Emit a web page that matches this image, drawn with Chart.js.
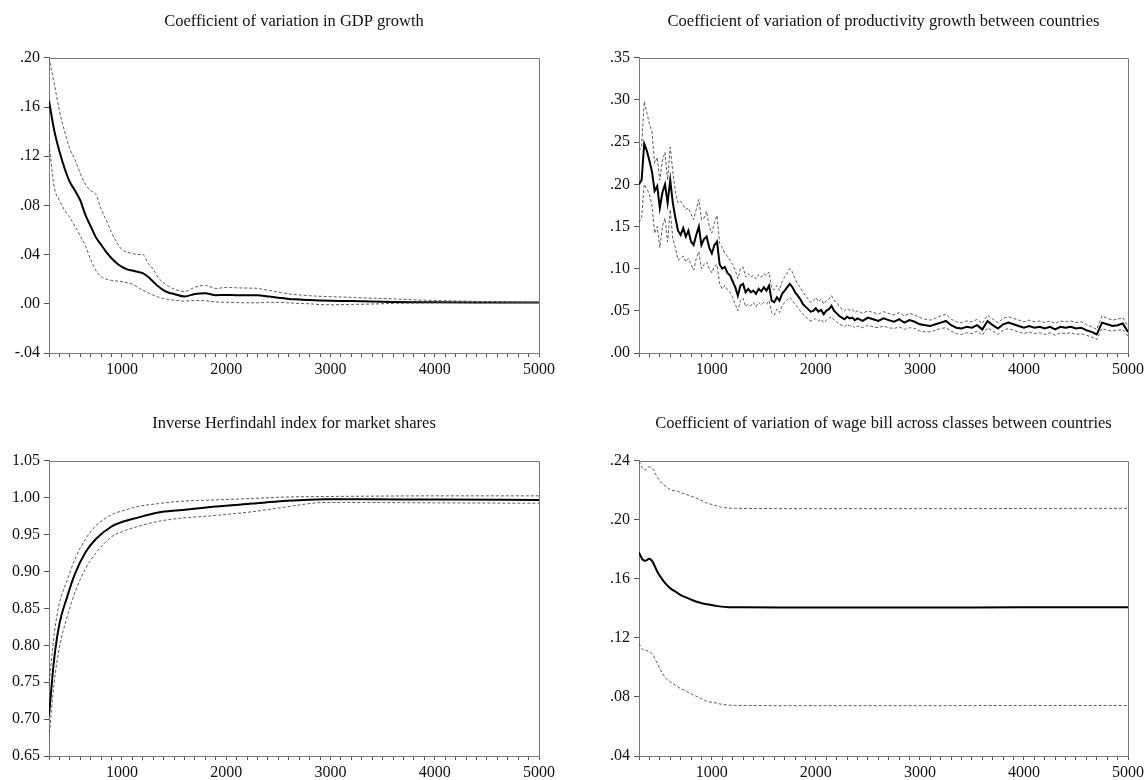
<!DOCTYPE html>
<html>
<head>
<meta charset="utf-8">
<title>Simulation statistics</title>
<script src="https://cdn.jsdelivr.net/npm/chart.js@4.4.1/dist/chart.umd.min.js"></script>
<style>
    html, body { margin: 0; padding: 0; background: #fff; }
    #wrap { position: relative; width: 1147px; height: 780px; }
    .panel { position: absolute; }
    .panel canvas { display: block; }
</style>
</head>
<body>
<div id="wrap">
    <div class="panel" style="left:0;top:0;width:573px;height:390px"><canvas id="c1"></canvas></div>
    <div class="panel" style="left:573px;top:0;width:574px;height:390px"><canvas id="c2"></canvas></div>
    <div class="panel" style="left:0;top:390px;width:573px;height:390px"><canvas id="c3"></canvas></div>
    <div class="panel" style="left:573px;top:390px;width:574px;height:390px"><canvas id="c4"></canvas></div>
</div>
<script>
"use strict";

// ---- Panel 1: coefficient of variation in GDP growth ----
const X1 = [300, 350, 400, 450, 500, 550, 600, 650, 700, 750, 800, 850, 900, 950, 1000, 1050, 1100, 1150, 1200,
    1250, 1300, 1350, 1400, 1450, 1500, 1600, 1700, 1800, 1900, 2000, 2100, 2200, 2300, 2400, 2500, 2600, 2700,
    2800, 2900, 3000, 3200, 3400, 3600, 3800, 4000, 4400, 5000];
const MEAN1 = [0.165, 0.141, 0.124, 0.110, 0.099, 0.092, 0.084, 0.072, 0.063, 0.054, 0.048, 0.042, 0.037, 0.033,
    0.030, 0.028, 0.027, 0.026, 0.025, 0.022, 0.018, 0.014, 0.011, 0.009, 0.008, 0.006, 0.008, 0.0085, 0.007,
    0.0072, 0.007, 0.007, 0.007, 0.006, 0.005, 0.004, 0.0035, 0.003, 0.0027, 0.0025, 0.0022, 0.0018, 0.0015,
    0.0013, 0.0012, 0.0011, 0.001];
const UPPER1 = [0.200, 0.179, 0.157, 0.140, 0.126, 0.117, 0.106, 0.097, 0.092, 0.089, 0.077, 0.068, 0.058, 0.050,
    0.044, 0.042, 0.041, 0.040, 0.040, 0.033, 0.028, 0.021, 0.017, 0.014, 0.012, 0.010, 0.0135, 0.015, 0.0125,
    0.0133, 0.013, 0.0128, 0.0125, 0.011, 0.0095, 0.008, 0.0072, 0.0066, 0.0061, 0.0058, 0.0052, 0.0045, 0.004,
    0.0032, 0.0027, 0.002, 0.001];
const LOWER1 = [0.130, 0.095, 0.084, 0.076, 0.070, 0.063, 0.055, 0.047, 0.036, 0.027, 0.022, 0.020, 0.019, 0.0185,
    0.018, 0.017, 0.016, 0.0135, 0.011, 0.009, 0.007, 0.0055, 0.0042, 0.0035, 0.003, 0.0022, 0.0027, 0.0025,
    0.0015, 0.0012, 0.001, 0.0008, 0.0008, 0.0012, 0.0012, 0.0008, 0.0003, 0.0, -0.0006, -0.0008, -0.0005,
    -0.0002, 0.0003, 0.0006, 0.0008, 0.001, 0.001];
const YTICKS1 = [-0.04, 0.00, 0.04, 0.08, 0.12, 0.16, 0.20];

// ---- Panel 2: coefficient of variation of productivity growth ----
const X2 = [300, 325, 350, 375, 400, 425, 450, 475, 500, 525, 550, 575, 600, 625, 650, 675, 700, 725, 750, 775,
    800, 825, 850, 875, 900, 925, 950, 975, 1000, 1025, 1050, 1075, 1100, 1125, 1150, 1175, 1200, 1225, 1250,
    1275, 1300, 1325, 1350, 1375, 1400, 1425, 1450, 1475, 1500, 1525, 1550, 1575, 1600, 1625, 1650, 1675, 1700,
    1725, 1750, 1775, 1800, 1825, 1850, 1875, 1900, 1925, 1950, 1975, 2000, 2025, 2050, 2075, 2100, 2125, 2150,
    2175, 2200, 2225, 2250, 2275, 2300, 2325, 2350, 2375, 2400, 2450, 2500, 2550, 2600, 2650, 2700, 2750, 2800,
    2850, 2900, 2950, 3000, 3050, 3100, 3150, 3200, 3250, 3300, 3350, 3400, 3450, 3500, 3550, 3600, 3650, 3700,
    3750, 3800, 3850, 3900, 3950, 4000, 4050, 4100, 4150, 4200, 4250, 4300, 4350, 4400, 4450, 4500, 4550, 4600,
    4650, 4700, 4750, 4800, 4850, 4900, 4950, 5000];
const MEAN2 = [0.200, 0.205, 0.248, 0.240, 0.228, 0.215, 0.192, 0.198, 0.172, 0.190, 0.200, 0.178, 0.205, 0.178,
    0.160, 0.145, 0.140, 0.148, 0.138, 0.145, 0.132, 0.128, 0.140, 0.150, 0.128, 0.135, 0.138, 0.125, 0.118,
    0.128, 0.132, 0.105, 0.100, 0.102, 0.095, 0.092, 0.085, 0.078, 0.068, 0.080, 0.082, 0.072, 0.076, 0.072,
    0.074, 0.070, 0.076, 0.073, 0.078, 0.074, 0.080, 0.062, 0.060, 0.066, 0.062, 0.070, 0.074, 0.078, 0.082,
    0.078, 0.072, 0.068, 0.064, 0.058, 0.055, 0.052, 0.049, 0.050, 0.053, 0.049, 0.051, 0.046, 0.050, 0.052,
    0.056, 0.050, 0.047, 0.044, 0.042, 0.040, 0.043, 0.041, 0.042, 0.039, 0.041,
    0.038, 0.042, 0.040, 0.038, 0.041, 0.039, 0.037, 0.040, 0.036, 0.039, 0.037, 0.034, 0.033, 0.032, 0.034,
    0.036, 0.038, 0.033, 0.030, 0.029, 0.031, 0.030, 0.033, 0.028, 0.038, 0.033, 0.029, 0.034, 0.036, 0.034,
    0.032, 0.030, 0.032, 0.030, 0.031, 0.029, 0.031, 0.028, 0.031, 0.030, 0.031, 0.029, 0.030, 0.027, 0.025,
    0.022, 0.036, 0.034, 0.032, 0.033, 0.035, 0.025];
const UPPER2 = [0.240, 0.245, 0.298, 0.285, 0.272, 0.262, 0.225, 0.232, 0.205, 0.228, 0.238, 0.205, 0.244, 0.215,
    0.190, 0.178, 0.180, 0.175, 0.170, 0.172, 0.165, 0.158, 0.170, 0.182, 0.158, 0.160, 0.168, 0.150, 0.142,
    0.155, 0.163, 0.130, 0.125, 0.118, 0.115, 0.110, 0.105, 0.098, 0.088, 0.100, 0.102, 0.090, 0.094, 0.090,
    0.092, 0.088, 0.093, 0.090, 0.094, 0.092, 0.096, 0.077, 0.075, 0.080, 0.074, 0.085, 0.090, 0.095, 0.100,
    0.096, 0.088, 0.082, 0.078, 0.072, 0.068, 0.064, 0.060, 0.062, 0.066, 0.061, 0.064, 0.058, 0.062, 0.064,
    0.068, 0.062, 0.060, 0.055, 0.052, 0.050, 0.053, 0.051, 0.052, 0.048, 0.050,
    0.047, 0.050, 0.048, 0.046, 0.049, 0.047, 0.045, 0.048, 0.044, 0.047, 0.045, 0.042, 0.040, 0.039, 0.041,
    0.044, 0.046, 0.040, 0.037, 0.036, 0.038, 0.037, 0.040, 0.035, 0.045, 0.040, 0.036, 0.041, 0.043, 0.041,
    0.039, 0.037, 0.039, 0.037, 0.038, 0.036, 0.038, 0.035, 0.038, 0.037, 0.038, 0.036, 0.037, 0.034, 0.031,
    0.028, 0.044, 0.041, 0.039, 0.040, 0.042, 0.031];
const LOWER2 = [0.155, 0.160, 0.200, 0.195, 0.188, 0.175, 0.142, 0.150, 0.125, 0.150, 0.160, 0.132, 0.170, 0.135,
    0.125, 0.110, 0.112, 0.115, 0.108, 0.112, 0.105, 0.098, 0.112, 0.120, 0.100, 0.105, 0.108, 0.100, 0.095,
    0.103, 0.105, 0.082, 0.076, 0.080, 0.075, 0.072, 0.066, 0.058, 0.050, 0.062, 0.065, 0.055, 0.058, 0.056,
    0.060, 0.055, 0.060, 0.057, 0.060, 0.058, 0.062, 0.048, 0.045, 0.052, 0.048, 0.056, 0.060, 0.063, 0.066,
    0.062, 0.058, 0.054, 0.050, 0.046, 0.043, 0.040, 0.038, 0.039, 0.041, 0.038, 0.040, 0.036, 0.039, 0.041,
    0.043, 0.039, 0.037, 0.034, 0.033, 0.031, 0.034, 0.032, 0.033, 0.030, 0.032,
    0.030, 0.033, 0.031, 0.030, 0.032, 0.030, 0.029, 0.031, 0.028, 0.030, 0.029, 0.026, 0.025, 0.025, 0.027,
    0.029, 0.030, 0.026, 0.023, 0.022, 0.024, 0.023, 0.026, 0.021, 0.030, 0.026, 0.022, 0.027, 0.029, 0.027,
    0.025, 0.023, 0.025, 0.023, 0.024, 0.022, 0.024, 0.021, 0.024, 0.023, 0.024, 0.022, 0.023, 0.021, 0.019,
    0.016, 0.029, 0.027, 0.026, 0.027, 0.028, 0.020];
const YTICKS2 = [0.00, 0.05, 0.10, 0.15, 0.20, 0.25, 0.30, 0.35];

// ---- Panel 3: inverse Herfindahl index ----
const X3 = [300, 350, 400, 475, 550, 650, 750, 900, 1000, 1150, 1350, 1550, 1900, 2250, 2550, 2950, 3300, 4000, 5000];
const MEAN3 = [0.705, 0.782, 0.829, 0.866, 0.897, 0.926, 0.944, 0.961, 0.967, 0.973, 0.980, 0.983, 0.988, 0.992,
    0.9955, 0.998, 0.998, 0.9975, 0.997];
const UPPER3 = [0.745, 0.815, 0.857, 0.888, 0.917, 0.944, 0.962, 0.977, 0.982, 0.988, 0.992, 0.995, 0.997, 0.999,
    1.0008, 1.0016, 1.002, 1.0025, 1.0025];
const LOWER3 = [0.675, 0.750, 0.797, 0.839, 0.872, 0.904, 0.925, 0.947, 0.954, 0.961, 0.968, 0.972, 0.976, 0.981,
    0.987, 0.9935, 0.9935, 0.993, 0.9925];
const YTICKS3 = [0.65, 0.70, 0.75, 0.80, 0.85, 0.90, 0.95, 1.00, 1.05];

// ---- Panel 4: coefficient of variation of wage bill ----
const X4 = [300, 335, 360, 400, 430, 475, 530, 560, 600, 670, 700, 740, 810, 880, 950, 1020, 1090, 1160, 1230,
    1300, 2000, 3000, 4000, 5000];
const MEAN4 = [0.1778, 0.1730, 0.1722, 0.1737, 0.1717, 0.1650, 0.1590, 0.1565, 0.1536, 0.1505, 0.1490, 0.1478,
    0.1457, 0.1440, 0.1428, 0.1420, 0.1412, 0.1408, 0.1407, 0.1407, 0.1406, 0.1406, 0.1407, 0.1407];
const UPPER4 = [0.2396, 0.2350, 0.2337, 0.2360, 0.2346, 0.2290, 0.2240, 0.2226, 0.2205, 0.2192, 0.2185, 0.2175,
    0.2158, 0.2138, 0.2115, 0.2100, 0.2086, 0.2080, 0.2078, 0.2077, 0.2076, 0.2076, 0.2077, 0.2078];
const LOWER4 = [0.1162, 0.1122, 0.1117, 0.1106, 0.1090, 0.1027, 0.0955, 0.0925, 0.0902, 0.0870, 0.0857, 0.0845,
    0.0818, 0.0795, 0.0771, 0.0762, 0.0751, 0.0745, 0.0743, 0.0742, 0.0741, 0.0741, 0.0742, 0.0742];
const YTICKS4 = [0.04, 0.08, 0.12, 0.16, 0.20, 0.24];

const X_MIN = 300;
const X_MAX = 5000;
const FONT = "'Liberation Serif', 'Times New Roman', serif";
const AXIS_GREY = "#7a7a7a";

// EViews style: strip the leading zero (".20", "-.04")
const fmtShort = v => v.toFixed(2).replace(/^(-?)0\./, "$1.");
const fmtLong = v => v.toFixed(2);

// top + right edge of the plot frame
const framePlugin = {
    id: "frame",
    afterDraw(chart) {
        const a = chart.chartArea;
        const ctx = chart.ctx;
        ctx.save();
        ctx.strokeStyle = AXIS_GREY;
        ctx.lineWidth = 1;
        ctx.beginPath();
        ctx.moveTo(a.left, Math.round(a.top) + 0.5);
        ctx.lineTo(Math.round(a.right) + 0.5, Math.round(a.top) + 0.5);
        ctx.lineTo(Math.round(a.right) + 0.5, a.bottom);
        ctx.stroke();
        ctx.restore();
    }
};

function pts(xs, ys) {
    return xs.map((x, i) => ({ x: x, y: ys[i] }));
}

function band(data, smooth) {
    return {
        data: data,
        borderColor: "#4a4a4a",
        borderWidth: 0.9,
        borderDash: [3, 2],
        pointRadius: 0,
        tension: 0,
        cubicInterpolationMode: smooth ? "monotone" : "default"
    };
}

function mean(data, smooth) {
    return {
        data: data,
        borderColor: "#000",
        borderWidth: 2,
        pointRadius: 0,
        tension: 0,
        cubicInterpolationMode: smooth ? "monotone" : "default"
    };
}

function makePanel(id, o) {
    const ctx = document.getElementById(id).getContext("2d");
    return new Chart(ctx, {
        type: "line",
        data: {
            datasets: [
                band(pts(o.xs, o.upper), o.smooth),
                band(pts(o.xs, o.lower), o.smooth),
                mean(pts(o.xs, o.mean), o.smooth)
            ]
        },
        options: {
            responsive: true,
            maintainAspectRatio: false,
            animation: false,
            events: [],
            layout: { padding: { left: 0, right: o.padRight, top: 0, bottom: 0 } },
            plugins: {
                legend: { display: false },
                tooltip: { enabled: false },
                title: {
                    display: true,
                    text: o.title,
                    fullSize: false,
                    color: "#111",
                    font: { family: FONT, size: 16.5, weight: "normal", lineHeight: 1.2 },
                    padding: { top: o.titleTop, bottom: o.titleBottom }
                }
            },
            scales: {
                x: {
                    type: "linear",
                    min: X_MIN,
                    max: X_MAX,
                    afterFit: s => { s.height = o.xHeight; },
                    border: { color: AXIS_GREY, width: 1 },
                    grid: { drawOnChartArea: false, drawTicks: true, tickLength: 4, color: "#555" },
                    ticks: {
                        stepSize: 100,
                        autoSkip: false,
                        maxRotation: 0,
                        padding: 3,
                        color: "#111",
                        font: { family: FONT, size: 16 },
                        callback: v => (v % 1000 === 0 ? String(v) : "")
                    }
                },
                y: {
                    type: "linear",
                    min: o.yTicks[0],
                    max: o.yTicks[o.yTicks.length - 1],
                    afterFit: s => { s.width = o.yWidth; },
                    afterBuildTicks: s => { s.ticks = o.yTicks.map(v => ({ value: v })); },
                    border: { color: AXIS_GREY, width: 1 },
                    grid: { drawOnChartArea: false, drawTicks: true, tickLength: 5, color: "#555" },
                    ticks: {
                        padding: 4,
                        color: "#111",
                        font: { family: FONT, size: 16 },
                        callback: v => o.fmt(v)
                    }
                }
            }
        },
        plugins: [framePlugin]
    });
}

makePanel("c1", {
    title: "Coefficient of variation in GDP growth",
    xs: X1, mean: MEAN1, upper: UPPER1, lower: LOWER1, yTicks: YTICKS1, fmt: fmtShort, smooth: true,
    yWidth: 49, padRight: 34, titleTop: 12, titleBottom: 26, xHeight: 37
});
makePanel("c2", {
    title: "Coefficient of variation of productivity growth between countries",
    xs: X2, mean: MEAN2, upper: UPPER2, lower: LOWER2, yTicks: YTICKS2, fmt: fmtShort, smooth: false,
    yWidth: 66, padRight: 18, titleTop: 12, titleBottom: 26, xHeight: 37
});
makePanel("c3", {
    title: "Inverse Herfindahl index for market shares",
    xs: X3, mean: MEAN3, upper: UPPER3, lower: LOWER3, yTicks: YTICKS3, fmt: fmtLong, smooth: true,
    yWidth: 49, padRight: 34, titleTop: 24, titleBottom: 27, xHeight: 24
});
makePanel("c4", {
    title: "Coefficient of variation of wage bill across classes between countries",
    xs: X4, mean: MEAN4, upper: UPPER4, lower: LOWER4, yTicks: YTICKS4, fmt: fmtShort, smooth: true,
    yWidth: 66, padRight: 18, titleTop: 24, titleBottom: 27, xHeight: 24
});
</script>
</body>
</html>
